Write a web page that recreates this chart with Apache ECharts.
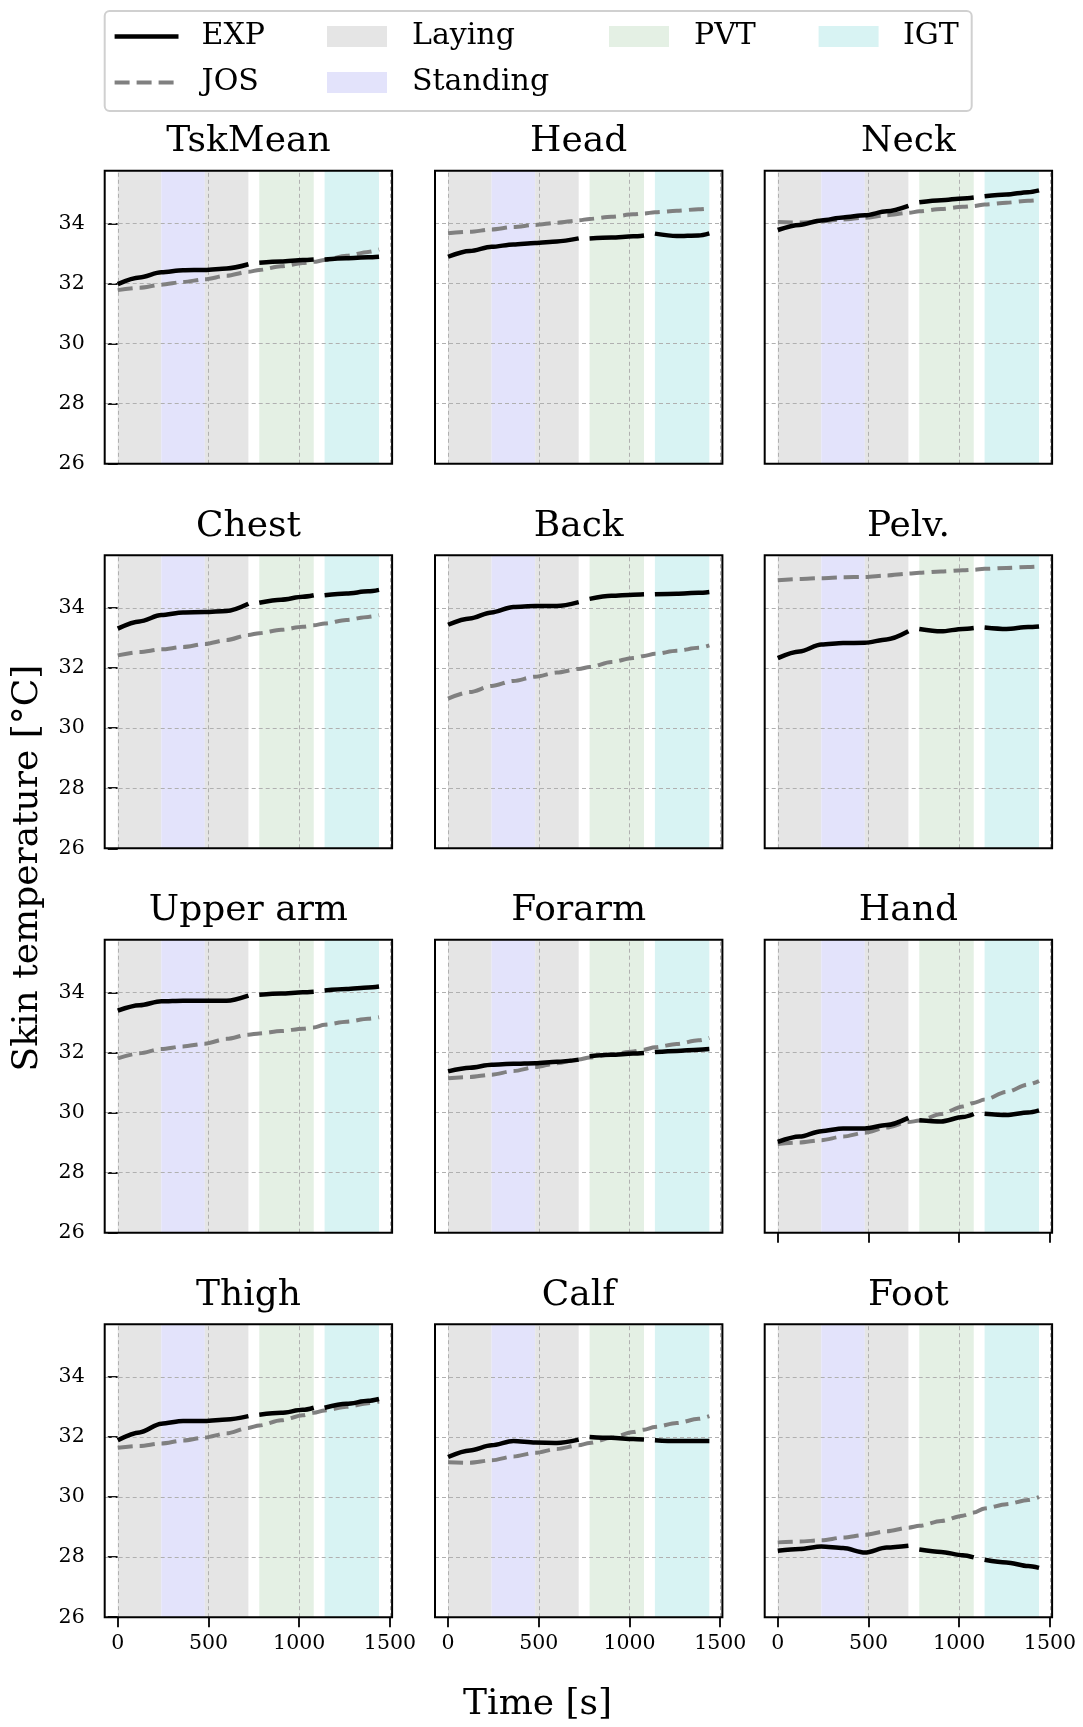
<!DOCTYPE html>
<html><head><meta charset="utf-8">
<script src="https://cdn.jsdelivr.net/npm/echarts@6/dist/echarts.min.js"></script>
<style>html,body{margin:0;padding:0;background:#fff}#c{width:1083px;height:1727px}</style>
</head><body><div id="c"></div>
<script>
// ---------------- data ----------------
const panelNames = ['TskMean','Head','Neck','Chest','Back','Pelv.','Upper arm','Forarm','Hand','Thigh','Calf','Foot'];
const times = [0,120,240,360,480,600,720, 780,900,1020,1080, 1140,1260,1380,1440];
const segmentEnds = [720,1080]; // EXP line is broken after these times

const expTskMean = [31.98,32.2,32.37,32.44,32.45,32.5,32.64, 32.69,32.73,32.78,32.8, 32.8,32.84,32.87,32.89];
const josTskMean = [31.78,31.86,31.96,32.05,32.14,32.26,32.39, 32.45,32.57,32.68,32.72, 32.78,32.92,33.05,33.13];
const expHead = [32.89,33.08,33.22,33.3,33.35,33.4,33.5, 33.5,33.53,33.57,33.6, 33.66,33.58,33.6,33.67];
const josHead = [33.67,33.72,33.8,33.88,33.95,34.02,34.1, 34.15,34.22,34.3,34.33, 34.37,34.42,34.47,34.5];
const expNeck = [33.78,33.95,34.1,34.2,34.27,34.4,34.58, 34.7,34.77,34.83,34.86, 34.9,34.96,35.04,35.1];
const josNeck = [34.05,34.03,34.07,34.13,34.19,34.27,34.35, 34.4,34.48,34.55,34.58, 34.63,34.69,34.75,34.78];
const expChest = [33.31,33.55,33.76,33.85,33.86,33.9,34.14, 34.17,34.27,34.37,34.42, 34.42,34.48,34.55,34.6];
const josChest = [32.42,32.53,32.62,32.7,32.8,32.93,33.1, 33.16,33.27,33.37,33.42, 33.48,33.6,33.7,33.76];
const expBack = [33.44,33.65,33.85,34.03,34.06,34.06,34.19, 34.3,34.4,34.44,34.45, 34.45,34.47,34.5,34.53];
const josBack = [30.98,31.2,31.4,31.57,31.71,31.85,31.97, 32.03,32.2,32.33,32.4, 32.47,32.57,32.67,32.75];
const expPelv = [32.33,32.55,32.78,32.83,32.84,32.95,33.22, 33.3,33.22,33.3,33.33, 33.35,33.3,33.36,33.38];
const josPelv = [34.92,34.96,34.99,35.02,35.03,35.08,35.14, 35.17,35.21,35.25,35.27, 35.3,35.33,35.36,35.38];
const expUpperArm = [33.39,33.57,33.7,33.72,33.72,33.72,33.89, 33.92,33.96,34.0,34.02, 34.06,34.11,34.16,34.19];
const josUpperArm = [31.8,31.97,32.11,32.2,32.29,32.45,32.59, 32.63,32.71,32.79,32.83, 32.92,33.02,33.12,33.17];
const expForarm = [31.37,31.49,31.59,31.62,31.64,31.69,31.76, 31.87,31.92,31.96,31.98, 32.01,32.05,32.09,32.11];
const josForarm = [31.14,31.18,31.26,31.38,31.51,31.64,31.76, 31.83,31.93,32.03,32.09, 32.17,32.28,32.4,32.48];
const expHand = [29.02,29.2,29.38,29.47,29.47,29.58,29.82, 29.74,29.7,29.85,29.95, 29.96,29.92,30.0,30.07];
const josHand = [28.95,29.0,29.08,29.2,29.33,29.5,29.68, 29.73,29.95,30.2,30.32, 30.43,30.68,30.93,31.05];
const expThigh = [31.89,32.15,32.44,32.53,32.53,32.58,32.69, 32.74,32.8,32.9,32.97, 32.97,33.1,33.2,33.26];
const josThigh = [31.64,31.7,31.78,31.88,31.98,32.12,32.3, 32.38,32.55,32.72,32.8, 32.88,33.0,33.12,33.18];
const expCalf = [31.33,31.55,31.72,31.86,31.81,31.8,31.91, 32.0,31.97,31.93,31.91, 31.89,31.86,31.86,31.86];
const josCalf = [31.16,31.14,31.22,31.35,31.47,31.6,31.72, 31.8,31.97,32.16,32.24, 32.33,32.46,32.6,32.69];
const expFoot = [28.21,28.27,28.35,28.3,28.15,28.32,28.38, 28.25,28.17,28.06,27.99, 27.91,27.82,27.7,27.64];
const josFoot = [28.49,28.52,28.56,28.65,28.74,28.86,28.98, 29.04,29.2,29.38,29.48, 29.62,29.76,29.9,30.0];

const expSeries = [expTskMean,expHead,expNeck,expChest,expBack,expPelv,expUpperArm,expForarm,expHand,expThigh,expCalf,expFoot];
const josSeries = [josTskMean,josHead,josNeck,josChest,josBack,josPelv,josUpperArm,josForarm,josHand,josThigh,josCalf,josFoot];

const phaseNames = ['Laying','Standing','Laying','PVT','IGT'];
const phaseStart = [0,240,480,780,1140];
const phaseEnd   = [240,480,720,1080,1440];

const xTicks = [0,500,1000,1500];
const yTicks = [26,28,30,32,34];
const xMin = -72, xMax = 1512, yMin = 26, yMax = 35.75;

// ---------------- style ----------------
const FAM = 'DejaVu Serif';
const FONT = '"DejaVu Serif", serif';
const phaseColor = {Laying:'#e5e5e5', Standing:'#e3e3fb', PVT:'#e4f0e4', IGT:'#d8f3f3'};
const colLeft = [104.7, 435, 764.7];
const rowTop = [170.8, 555.3, 939.7, 1324.2];
const W = 287.4, H = 293;

const grid=[], xAxis=[], yAxis=[], series=[], graphic=[];

panelNames.forEach((name, i) => {
  const r = Math.floor(i/3), c = i % 3;
  const L = colLeft[c], T = rowTop[r];
  grid.push({left:L, top:T, width:W, height:H, show:false, containLabel:false});
  const bottomRow = r === 3;
  const showXTicks = bottomRow || name === 'Hand';
  xAxis.push({
    type:'value', gridIndex:i, min:xMin, max:xMax,
    splitLine:{show:false}, axisLine:{show:false},
    axisTick:{show:showXTicks, customValues:xTicks, length:10, inside:false, lineStyle:{color:'#000', width:1.8}},
    axisLabel:{show:bottomRow, customValues:xTicks, formatter:v=>String(v), fontFamily:FAM, fontSize:20.5, color:'#000', margin:16}
  });
  yAxis.push({
    type:'value', gridIndex:i, min:yMin, max:yMax,
    splitLine:{show:false}, axisLine:{show:false},
    axisTick:{show:c===0, customValues:yTicks, length:10, inside:false, lineStyle:{color:'#000', width:1.8}},
    axisLabel:{show:c===0, customValues:yTicks, formatter:v=>String(v), fontFamily:FAM, fontSize:20.5, color:'#000', margin:20}
  });
  // phase bands
  series.push({
    type:'line', xAxisIndex:i, yAxisIndex:i, data:[], silent:true, z:1,
    markArea:{silent:true, z:1, data: phaseNames.map((p,k)=>[
      {xAxis:phaseStart[k], itemStyle:{color:phaseColor[p]}},
      {xAxis:phaseEnd[k]}
    ])}
  });
  // grid lines
  series.push({
    type:'line', xAxisIndex:i, yAxisIndex:i, data:[], silent:true, z:2,
    markLine:{silent:true, z:2, symbol:['none','none'], label:{show:false},
      lineStyle:{color:'#b0b0b0', type:[4,3], width:1},
      data:[...xTicks.map(v=>({xAxis:v})), ...yTicks.filter(v=>v>yMin).map(v=>({yAxis:v}))]}
  });
  // JOS
  series.push({
    name:'JOS', type:'line', xAxisIndex:i, yAxisIndex:i, z:3, silent:true,
    data: times.map((t,k)=>[t, josSeries[i][k]]),
    showSymbol:false, smooth:0.3, smoothMonotone:'x',
    lineStyle:{color:'#808080', width:4, type:[15,7]}
  });
  // EXP (broken between phases)
  const expData = [];
  times.forEach((t,k)=>{
    expData.push([t, expSeries[i][k]]);
    if (segmentEnds.includes(t)) expData.push([t+30, null]);
  });
  series.push({
    name:'EXP', type:'line', xAxisIndex:i, yAxisIndex:i, z:4, silent:true,
    data: expData, connectNulls:false,
    showSymbol:false, smooth:0.3, smoothMonotone:'x',
    lineStyle:{color:'#000', width:4.5}
  });
  // frame
  graphic.push({type:'rect', z:100, silent:true, shape:{x:L, y:T, width:W, height:H},
    style:{fill:null, stroke:'#000', lineWidth:2}});
  // title
  graphic.push({type:'text', z:100, x:L+W/2, y:T-29, silent:true,
    style:{text:name, font:'36px '+FONT, fill:'#000', textAlign:'center', textVerticalAlign:'middle'}});
});

// axis labels
graphic.push({type:'text', x:27.5, y:868, rotation:Math.PI/2, silent:true,
  style:{text:'Skin temperature [°C]', font:'36px '+FONT, fill:'#000', textAlign:'center', textVerticalAlign:'middle'}});
graphic.push({type:'text', x:537.6, y:1705, silent:true,
  style:{text:'Time [s]', font:'36px '+FONT, fill:'#000', textAlign:'center', textVerticalAlign:'middle'}});

// legend
graphic.push({type:'rect', silent:true, shape:{x:104.7, y:11, width:867, height:100, r:5},
  style:{fill:'#fff', stroke:'#d0d0d0', lineWidth:2}});
const legRowY = [36.4, 82.6];
graphic.push({type:'line', silent:true, shape:{x1:114.6, y1:legRowY[0], x2:178.5, y2:legRowY[0]},
  style:{stroke:'#000', lineWidth:4.5}});
graphic.push({type:'line', silent:true, shape:{x1:114.6, y1:legRowY[1], x2:178.5, y2:legRowY[1]},
  style:{stroke:'#808080', lineWidth:4, lineDash:[15,7]}});
const legText = (t,x,y)=>({type:'text', silent:true, x:x, y:y,
  style:{text:t, font:'30px '+FONT, fill:'#000', textAlign:'left', textVerticalAlign:'middle'}});
graphic.push(legText('EXP',201.6,legRowY[0]));
graphic.push(legText('JOS',201.6,legRowY[1]));
const legPatches = [['Laying',327,412,0],['Standing',327,412,1],['PVT',609,694,0],['IGT',818.6,903,0]];
legPatches.forEach(([n,rx,tx,row])=>{
  graphic.push({type:'rect', silent:true, shape:{x:rx, y:legRowY[row]-10.5, width:60, height:21},
    style:{fill:phaseColor[n]}});
  graphic.push(legText(n,tx,legRowY[row]));
});

const chart = echarts.init(document.getElementById('c'), null, {renderer:'canvas'});
chart.setOption({animation:false, backgroundColor:'#fff', grid, xAxis, yAxis, series, graphic});
</script></body></html>
